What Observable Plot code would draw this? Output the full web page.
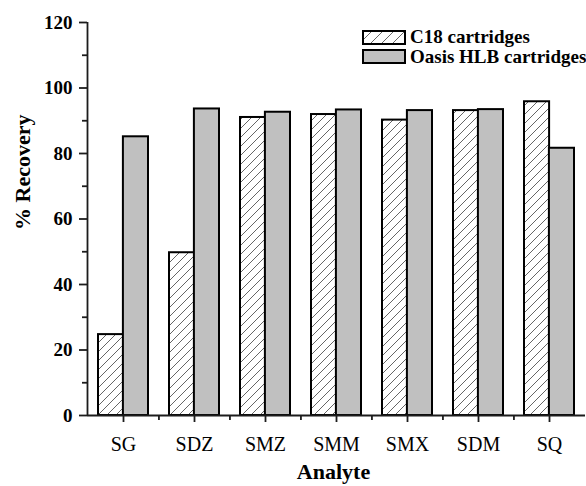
<!DOCTYPE html>
<html><head><meta charset="utf-8">
<script src="https://cdn.jsdelivr.net/npm/d3@7"></script>
<script src="https://cdn.jsdelivr.net/npm/@observablehq/plot@0.6"></script>
<style>
html,body{margin:0;padding:0;background:#fff;}
#wrap{position:relative;width:586px;height:486px;font-family:"Liberation Serif","Times New Roman",serif;}
#legend{position:absolute;left:362px;top:30px;font-weight:bold;font-size:19px;white-space:nowrap;color:#000;}
#legend .item{display:flex;align-items:center;height:14px;margin-bottom:5.5px;}
#legend svg{display:block;margin-right:4px;}
</style></head><body><div id="wrap"><div id="legend"></div></div>
<script>
const analytes = ["SG", "SDZ", "SMZ", "SMM", "SMX", "SDM", "SQ"];
const c18 = [24.7, 49.7, 91.0, 91.9, 90.2, 93.1, 95.8];
const hlb = [85.1, 93.6, 92.6, 93.3, 93.1, 93.4, 81.6];
const seriesNames = ["C18 cartridges", "Oasis HLB cartridges"];
const yTicks = [0, 20, 40, 60, 80, 100, 120];
const yMinor = [10, 30, 50, 70, 90, 110];
const xTitle = "Analyte";
const yTitle = "% Recovery";

const W = 586, H = 486, ml = 87, mr = 1, mt = 22, mb = 71;
const pInner = 0.3, pOuter = 0.15;
const step = (W - ml - mr) / (analytes.length - pInner + 2 * pOuter);
const bw = step * (1 - pInner);
const grayFill = "#c0c0c0";
const lineColor = "#1c1c1c";
const lineWidth = 1.8;
const font = "'Liberation Serif', 'Times New Roman', serif";

const rows = analytes.map((a, i) => ({analyte: a, c18: c18[i], hlb: hlb[i]}));

const chart = Plot.plot({
  width: W, height: H,
  marginLeft: ml, marginRight: mr, marginTop: mt, marginBottom: mb,
  style: {fontFamily: font, background: "#fff"},
  x: {type: "band", domain: analytes, paddingInner: pInner, paddingOuter: pOuter, axis: null},
  y: {domain: [0, 120], axis: null},
  marks: [
    Plot.barY(rows, {x: "analyte", y: "c18", insetRight: bw / 2, fill: "url(#hatchC18)", stroke: "#000", strokeWidth: 2}),
    Plot.barY(rows, {x: "analyte", y: "hlb", insetLeft: bw / 2, fill: grayFill, stroke: "#000", strokeWidth: 2}),
    Plot.ruleY([0], {stroke: lineColor, strokeWidth: lineWidth}),
    Plot.ruleX([0], {x: null, y1: 0, y2: 120, dx: -(W - ml - mr) / 2, stroke: lineColor, strokeWidth: lineWidth}),
    Plot.axisY({ticks: yTicks, tickSize: 8, tickPadding: 7, fontSize: 19, fontWeight: "bold", fill: "#000", stroke: lineColor, strokeWidth: lineWidth, label: null}),
    Plot.axisY({ticks: yMinor, tickSize: 5, tickFormat: () => "", stroke: lineColor, strokeWidth: lineWidth, label: null}),
    Plot.axisX({tickSize: 7, tickPadding: 14, fontSize: 20, fill: "#000", stroke: lineColor, strokeWidth: lineWidth, label: null}),
    Plot.ruleX(analytes.slice(1), {x: d => d, y1: 0, y2: 0, insetTop: 5, dx: -step / 2, stroke: lineColor, strokeWidth: lineWidth}),
    Plot.text([xTitle], {frameAnchor: "bottom", dy: 63, dx: -3, fontSize: 22, fontWeight: "bold", fill: "#000"}),
    Plot.text([yTitle], {frameAnchor: "left", rotate: -90, dx: -65, dy: 11, fontSize: 22, fontWeight: "bold", fill: "#000"})
  ]
});

const defs = document.createElementNS("http://www.w3.org/2000/svg", "defs");
const pat = d3.select(defs).append("pattern").attr("id", "hatchC18").attr("patternUnits", "userSpaceOnUse").attr("width", 9).attr("height", 9);
pat.append("rect").attr("width", 9).attr("height", 9).attr("fill", "#fff");
pat.append("path").attr("d", "M0,9 L9,0 M-2,2 L2,-2 M7,11 L11,7").attr("stroke", "#555").attr("stroke-width", 0.9);
chart.appendChild(defs);

document.getElementById("wrap").prepend(chart);

const legend = d3.select("#legend");
seriesNames.forEach((name, i) => {
  const item = legend.append("div").attr("class", "item");
  const sw = item.append("svg").attr("width", 44).attr("height", 15);
  let fill = grayFill;
  if (i === 0) {
    const lp = sw.append("defs").append("pattern").attr("id", "hatchLeg").attr("patternUnits", "userSpaceOnUse").attr("width", 11).attr("height", 11);
    lp.append("rect").attr("width", 11).attr("height", 11).attr("fill", "#fff");
    lp.append("path").attr("d", "M0,11 L11,0 M-2,2 L2,-2 M9,13 L13,9").attr("stroke", "#555").attr("stroke-width", 0.9);
    fill = "url(#hatchLeg)";
  }
  sw.append("rect").attr("x", 1).attr("y", 1).attr("width", 42).attr("height", 13)
    .attr("fill", fill).attr("stroke", "#000").attr("stroke-width", 2);
  item.append("span").text(name);
});
</script>
</body></html>
